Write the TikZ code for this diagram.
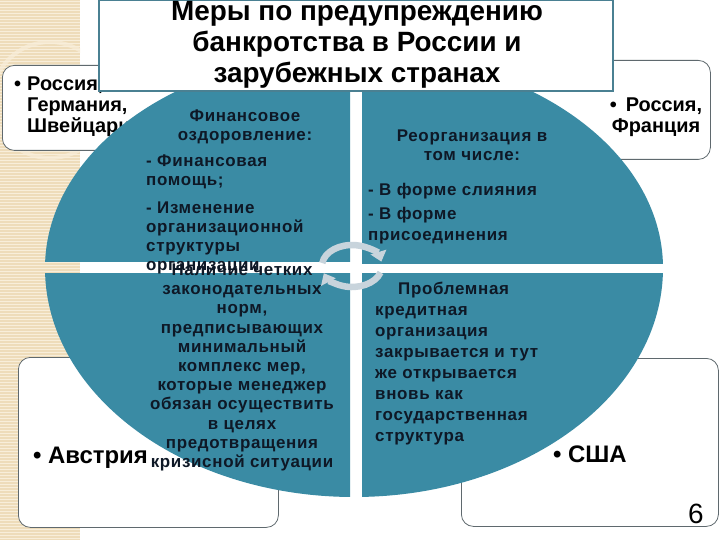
\documentclass[tikz,border=0pt]{standalone}
\usepackage{fontspec}
\setmainfont{Liberation Sans}
\newfontfamily\qfont[LetterSpace=4]{Liberation Sans}
\usetikzlibrary{arrows.meta}
\definecolor{quad}{RGB}{58,139,164}
\definecolor{qtext}{RGB}{14,24,38}
\definecolor{titleborder}{RGB}{74,128,146}
\definecolor{boxborder}{RGB}{95,105,110}
\definecolor{beige}{RGB}{238,220,186}
\definecolor{stripe}{RGB}{248,238,218}
\definecolor{cyc}{RGB}{200,212,220}
\begin{document}
\begin{tikzpicture}[x=1bp,y=-1bp,
  sidebox/.style={draw=boxborder, line width=0.8bp, fill=white, rounded corners=12bp, inner sep=0, anchor=north west},
  boxtxt/.style={inner sep=0, text=black, font=\fontsize{20}{21}\selectfont\bfseries, execute at begin node=\strut},
  qtxt/.style={inner sep=0, text=qtext, font=\fontsize{17}{19}\qfont\bfseries, execute at begin node=\strut},
  cycarrow/.style={draw=cyc, line width=6.5bp, -{Triangle[length=10bp,width=16bp]}}]
\useasboundingbox (0,0) rectangle (720,540);
\fill[white] (0,0) rectangle (720,540);
% background strip
\fill[beige] (0,0) rectangle (80,540);
\foreach \yy in {1.5,4.5,...,540} \draw[stripe, line width=1.1bp] (0,\yy) -- (80,\yy);
\begin{scope}
  \clip (0,0) rectangle (80,540);
  \draw[stripe, line width=4bp, opacity=0.7] (50,100) circle[radius=58bp];
\end{scope}
% side boxes
\node[sidebox, minimum width=253bp, minimum height=85bp] (boxTL) at (2,65) {};
\node[sidebox, minimum width=255bp, minimum height=99bp] (boxTR) at (455,60) {};
\node[sidebox, minimum width=260bp, minimum height=170bp] (boxBL) at (18,357) {};
\node[sidebox, minimum width=257bp, minimum height=168bp] (boxBR) at (461,358) {};
\node[boxtxt, anchor=north west, align=left] (tTL) at (27,76.3) {\llap{•\hspace{6bp}}Россия,\\Германия,\\Швейцария};
\node[boxtxt, anchor=north, align=center] (tTR) at (656,97.3) {•\hspace{9bp}Россия,\\Франция};
\node[inner sep=0, anchor=base west, font=\fontsize{24}{28}\selectfont\bfseries] (tBL) at (33,463) {• Австрия};
\node[inner sep=0, anchor=base west, font=\fontsize{24}{28}\selectfont\bfseries] (tBR) at (553,462) {• США};
\node[inner sep=0, anchor=base west, font=\fontsize{28}{32}\selectfont] (pagenum) at (688,523) {6};
% quadrants
\begin{scope}
  \clip (0,0) rectangle (350,262);
  \fill[quad] (354,268) ellipse [x radius=309bp, y radius=216bp];
\end{scope}
\begin{scope}
  \clip (362,0) rectangle (720,263);
  \fill[quad] (354,268) ellipse [x radius=309bp, y radius=216bp];
\end{scope}
\begin{scope}
  \clip (0,273) rectangle (350,540);
  \fill[quad] (354,268) ellipse [x radius=309bp, y radius=229bp];
\end{scope}
\begin{scope}
  \clip (362,273) rectangle (720,540);
  \fill[quad] (354,268) ellipse [x radius=309bp, y radius=229bp];
\end{scope}
% quadrant texts
\node[qtxt, anchor=north, align=center] (q1h) at (245,109.7) {Финансовое\\оздоровление:};
\node[qtxt, anchor=north west, align=left] (q1a) at (146,154.7) {- Финансовая\\помощь;};
\node[qtxt, anchor=north west, align=left] (q1b) at (146,201.7) {- Изменение\\организационной\\структуры\\организации};
\node[qtxt, anchor=north, align=center, font=\fontsize{17}{19.3}\qfont\bfseries] (q3) at (242,263.5) {Наличие четких\\законодательных\\норм,\\предписывающих\\минимальный\\комплекс мер,\\которые менеджер\\обязан осуществить\\в целях\\предотвращения\\кризисной ситуации};
\node[qtxt, anchor=north, align=center] (q2h) at (472,129.7) {Реорганизация в\\том числе:};
\node[qtxt, anchor=north west, align=left] (q2a) at (368,181.7) {- В форме слияния};
\node[qtxt, anchor=north west, align=left, font=\fontsize{17}{22}\qfont\bfseries] (q2b) at (368,206.6) {- В форме\\присоединения};
\node[qtxt, anchor=north west, align=left, font=\fontsize{17}{21.1}\qfont\bfseries] (q4) at (375,282.2) {\hspace*{23bp}Проблемная\\кредитная\\организация\\закрывается и тут\\же открывается\\вновь как\\государственная\\структура};
% cycle icon
\coordinate (cyc) at (352,266);
\draw[cycarrow] (cyc) ++(172:30bp and 21bp) arc[start angle=172, end angle=12, x radius=30bp, y radius=21bp];
\draw[cycarrow] (cyc) ++(-18:30bp and 21bp) arc[start angle=-18, end angle=-160, x radius=30bp, y radius=21bp];
% title
\node[draw=titleborder, line width=2bp, fill=white, anchor=north west, inner sep=0, minimum width=514bp, minimum height=91bp] (titlebox) at (98,-1) {};
\node[inner sep=0, anchor=north, align=center, font=\fontsize{28}{31}\selectfont\bfseries, execute at begin node=\strut] (title) at (357,1.3) {Меры по предупреждению\\банкротства в России и\\зарубежных странах};
\end{tikzpicture}
\end{document}
